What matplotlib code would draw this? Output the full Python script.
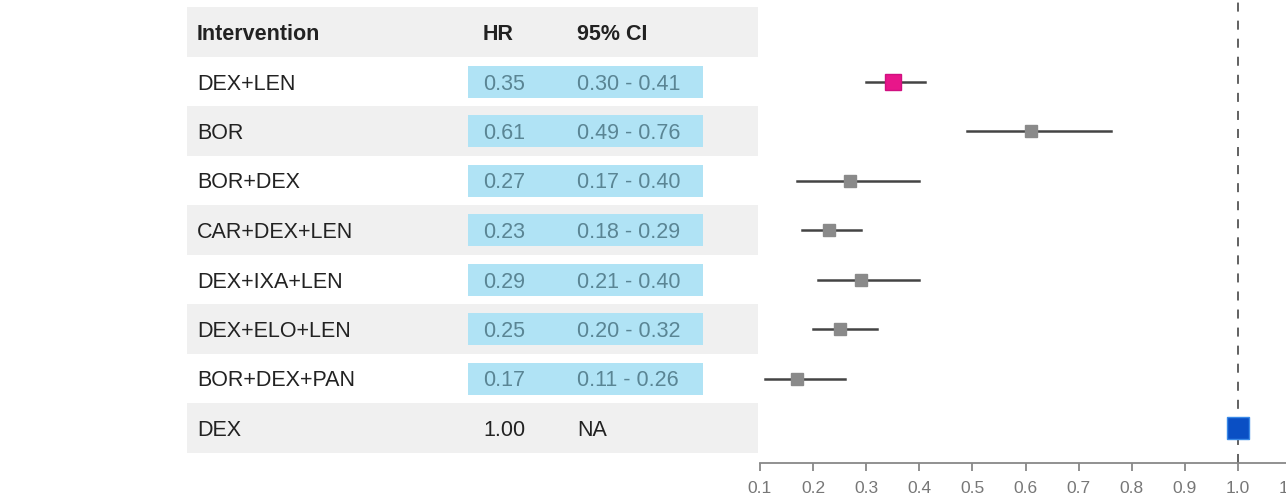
import matplotlib
matplotlib.use("Agg")
import matplotlib.pyplot as plt
from matplotlib.patches import Rectangle

plt.rcParams['font.family'] = ['Liberation Sans', 'DejaVu Sans']

# table contents
interventions = ["DEX+LEN", "BOR", "BOR+DEX", "CAR+DEX+LEN", "DEX+IXA+LEN",
                 "DEX+ELO+LEN", "BOR+DEX+PAN", "DEX"]
hr = [0.35, 0.61, 0.27, 0.23, 0.29, 0.25, 0.17, 1.00]
ci_low = [0.30, 0.49, 0.17, 0.18, 0.21, 0.20, 0.11, None]
ci_high = [0.41, 0.76, 0.40, 0.29, 0.40, 0.32, 0.26, None]
headers = ["Intervention", "HR", "95% CI"]
ticks = [0.1, 0.2, 0.3, 0.4, 0.5, 0.6, 0.7, 0.8, 0.9, 1.0, 1.1]

W, H = 1286, 497
fig = plt.figure(figsize=(W / 100, H / 100), dpi=100)

row_h = 49.5
y0 = 32
axis_px = 463
ytop = -y0 / row_h
ybot = (axis_px - y0) / row_h
fs = 15.5

# ---- table on the left ----
tab = fig.add_axes([0, 1 - axis_px / H, 760 / W, axis_px / H])
tab.set_xlim(0, 760)
tab.set_ylim(ybot, ytop)
tab.axis('off')

grey_bg = "#f0f0f0"
cell_blue = "#b0e3f5"
txt_blue = "#5a8594"
for r in range(len(interventions) + 1):
    if r % 2 == 0:
        tab.add_patch(Rectangle((187, r - 0.5), 571, 1.0, color=grey_bg, lw=0))

for xp, head in zip([197, 483, 577], headers):
    tab.text(xp, 0, head, fontsize=fs, fontweight='bold', va='center_baseline', color="#222222")

for i, name in enumerate(interventions):
    y = i + 1
    tab.text(197, y, name, fontsize=fs, va='center_baseline', color="#222222")
    if ci_low[i] is None:
        tab.text(483, y, f"{hr[i]:.2f}", fontsize=fs, va='center_baseline', color="#222222")
        tab.text(577, y, "NA", fontsize=fs, va='center_baseline', color="#222222")
    else:
        tab.add_patch(Rectangle((468, y - 16 / row_h), 235, 32 / row_h, color=cell_blue, lw=0))
        tab.text(483, y, f"{hr[i]:.2f}", fontsize=fs, va='center_baseline', color=txt_blue)
        tab.text(577, y, f"{ci_low[i]:.2f} - {ci_high[i]:.2f}", fontsize=fs,
                 va='center_baseline', color=txt_blue)

# ---- forest plot on the right ----
left_px = 740
scale = (1238 - 760) / 0.9
xmin = 0.1 - (760 - left_px) / scale
xmax = 0.1 + (W - 760) / scale
ax = fig.add_axes([left_px / W, 1 - axis_px / H, (W - left_px) / W, axis_px / H])
ax.patch.set_alpha(0)

ax.axvline(1.0, color="#555555", lw=1.3, ls=(0, (5, 5)), zorder=1)

for i in range(len(interventions)):
    y = i + 1
    if ci_low[i] is not None:
        ax.plot([ci_low[i], ci_high[i]], [y, y], color="#444444", lw=1.8, zorder=2)
    if i == 0:
        ax.plot(hr[i], y, marker='s', ms=11, color="#e8168a", mec="#d01080", zorder=3)
    elif ci_low[i] is None:
        ax.plot(hr[i], y, marker='s', ms=16, color="#0a4fc4", mec="#3a8ae8", zorder=3)
    else:
        ax.plot(hr[i], y, marker='s', ms=9, color="#8a8a8a", mec="#8a8a8a", zorder=3)

for s in ['top', 'right', 'left']:
    ax.spines[s].set_visible(False)
ax.spines['bottom'].set_color("#888888")
ax.spines['bottom'].set_linewidth(1.3)
shown = [t for t in ticks if t <= xmax]
ax.set_xticks(shown)
ax.set_xticklabels([f"{t:.1f}" for t in shown])
ax.tick_params(axis='x', colors="#888888", labelcolor="#777777", labelsize=12.5,
               length=6, width=1.3, pad=7)
ax.set_yticks([])
ax.set_xlim(xmin, xmax)
ax.set_ylim(ybot, ytop)
ax.spines['bottom'].set_bounds(0.1, xmax)

# last tick runs past the right edge; its label is drawn unclipped
for t in ticks:
    if t > xmax:
        ax.annotate(f"{t:.1f}", xy=(t, 0), xycoords=('data', 'axes fraction'),
                    xytext=(0, -13), textcoords='offset points', ha='center', va='top',
                    fontsize=12.5, color="#777777", annotation_clip=False)

fig.savefig("out.png", dpi=100)
